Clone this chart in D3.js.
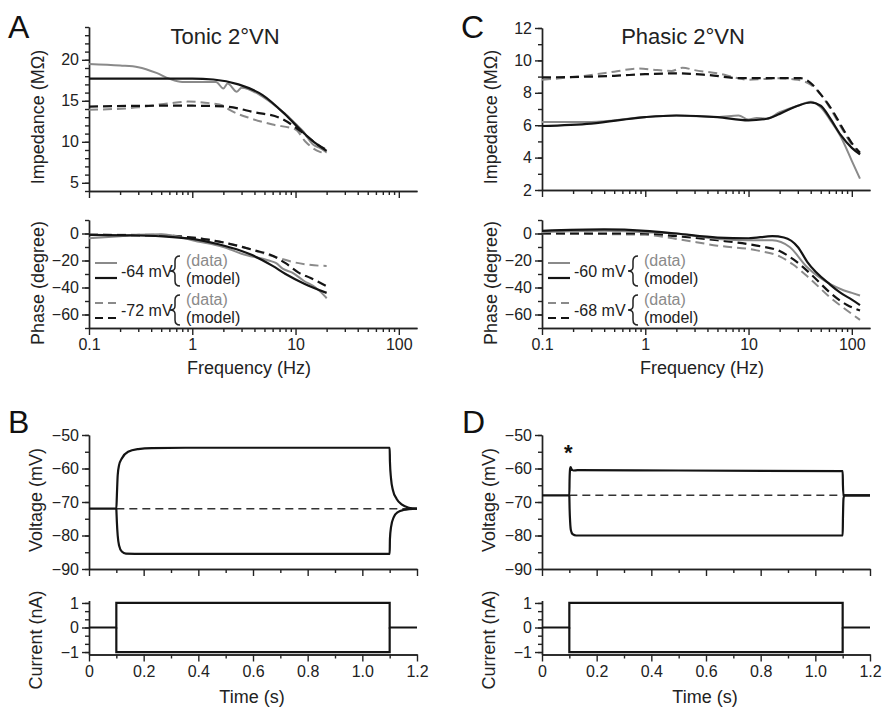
<!DOCTYPE html>
<html>
<head>
<meta charset="utf-8">
<script src="https://cdn.jsdelivr.net/npm/d3@7"></script>
<style>
  body { margin: 0; background: #fff; }
  svg { font-family: "Liberation Sans", Arial, sans-serif; }
</style>
</head>
<body>
<div id="wrapper"></div>
<script>
// ---- data (frequency in Hz, impedance in MOhm, phase in degree) ----
const tonicImpData64  = [[0.1,19.5],[0.2,19.3],[0.3,19.1],[0.45,18.4],[0.6,17.7],[0.8,17.3],[1.2,17.3],[1.7,17.3],[2.0,16.5],[2.2,17.1],[2.7,16.1],[3.0,16.6],[4.8,15.5],[6.8,14.1],[8.5,13.1],[10,12.2],[12,11.2],[14,10.0],[15,9.6],[17,9.3],[20,8.7]]
const tonicImpModel64 = [[0.1,17.7],[0.5,17.7],[1,17.7],[1.6,17.6],[2.8,17.0],[4.8,15.7],[8,13.3],[11.7,11.2],[15,10.0],[20,8.9]]
const tonicImpData72  = [[0.1,13.9],[0.3,14.2],[0.6,14.7],[0.9,14.9],[1.5,14.7],[2.0,14.4],[2.3,13.9],[3.8,12.8],[6,12.1],[10,11.5],[12.5,10.0],[17,8.8],[20,8.6]]
const tonicImpModel72 = [[0.1,14.3],[0.5,14.4],[1,14.4],[2.1,14.3],[4,13.6],[7.1,12.9],[11.7,11.1],[15,10.0],[20,9.0]]

const tonicPhaseData64  = [[0.1,-3.5],[0.2,-2],[0.3,-1],[0.5,-0.5],[0.7,-2],[1,-5],[2,-10],[3,-15],[5.5,-20],[6.5,-22],[7.5,-26],[9.3,-29],[12,-35],[15.6,-40],[19.5,-47],[20,-48]]
const tonicPhaseModel64 = [[0.1,-1],[0.3,-1.5],[0.6,-2.5],[1,-4],[1.8,-8],[3,-13],[3.8,-16],[6,-24],[8,-30],[12,-37],[20,-44]]
const tonicPhaseData72  = [[0.1,-1],[0.5,-1],[1,-3],[2,-6.5],[3.8,-12],[5.5,-16],[6.8,-18],[9.3,-21],[13,-23],[16.7,-23.8],[20,-24]]
const tonicPhaseModel72 = [[0.1,-1],[0.4,-1.5],[0.85,-2.5],[2.1,-7],[3.8,-12],[6,-16.5],[8,-22],[10.7,-29],[14,-33],[20,-39]]

const phasicImpData60  = [[0.1,6.2],[0.3,6.2],[1,6.5],[2,6.6],[5,6.5],[8,6.6],[10,6.35],[12,6.45],[15,6.4],[20,6.8],[30,7.2],[40,7.45],[50,7.1],[62,6.3],[78,5.3],[100,3.8],[120,2.7]]
const phasicImpModel60 = [[0.1,5.95],[0.3,6.1],[1,6.5],[2,6.6],[5,6.5],[10,6.3],[15,6.4],[20,6.7],[30,7.2],[40,7.4],[50,7.2],[62,6.4],[78,5.4],[100,4.6],[120,4.2]]
const phasicImpData68  = [[0.1,8.8],[0.3,9.1],[0.5,9.3],[0.85,9.5],[1.3,9.4],[1.8,9.35],[2.3,9.55],[3,9.4],[5,9.2],[8,8.9],[10,8.8],[14,8.85],[20,8.9],[30,8.8],[40,8.5],[50,7.9],[65,6.8],[80,5.8],[100,4.8],[120,4.2]]
const phasicImpModel68 = [[0.1,8.95],[0.5,9.05],[1,9.15],[2,9.2],[4,9.1],[8.5,8.9],[20,8.9],[32,8.9],[40,8.6],[50,7.9],[65,6.9],[80,5.9],[100,4.9],[120,4.3]]

const phasicPhaseData60  = [[0.1,1],[0.4,2],[1,1],[2,0],[5,-4],[10,-5],[17,-5],[25,-10],[37,-25],[62,-37.5],[83,-42],[100,-44],[120,-46]]
const phasicPhaseModel60 = [[0.1,2],[0.4,3],[1,2],[2,0],[5,-3],[10,-3.5],[17,-2],[22,-3],[30,-10],[37,-21],[62,-38],[78,-44],[100,-49],[120,-53]]
const phasicPhaseData68  = [[0.1,0],[1,-1],[2,-4],[5,-9],[12,-12.5],[20,-17],[27,-23],[40,-34],[62,-47.5],[90,-57],[120,-64]]
const phasicPhaseModel68 = [[0.1,0],[1,0],[2,-2],[5,-5],[12,-9],[20,-13],[27,-19],[40,-30],[62,-44],[90,-53],[120,-57]]

// ---- data (time in s, voltage in mV, current in nA) ----
const tonicVUp   = [[0,-72],[0.1,-72],[0.102,-68],[0.105,-62],[0.11,-59],[0.12,-57],[0.143,-55],[0.18,-54.2],[0.23,-53.9],[0.4,-53.8],[1.1,-53.8],[1.101,-58],[1.105,-63],[1.112,-66.5],[1.125,-69],[1.145,-70.8],[1.17,-71.7],[1.2,-72]]
const tonicVDown = [[0.1,-72],[0.102,-76],[0.105,-80],[0.11,-83],[0.12,-84.8],[0.135,-85.4],[0.2,-85.5],[1.1,-85.5],[1.101,-81],[1.105,-77.5],[1.115,-74.5],[1.13,-73],[1.15,-72.4],[1.2,-72]]
const tonicRest  = [[0.1,-72],[1.2,-72]]

const phasicVUp   = [[0,-68],[0.1,-68],[0.101,-63],[0.103,-60],[0.105,-59.6],[0.108,-60.2],[0.115,-60.6],[0.13,-60.5],[0.5,-60.6],[1.1,-60.8],[1.101,-65],[1.103,-68],[1.2,-68]]
const phasicVDown = [[0.1,-68],[0.101,-72],[0.103,-76],[0.106,-78.5],[0.112,-79.6],[0.125,-80],[1.1,-80],[1.101,-75],[1.103,-69],[1.106,-68],[1.2,-68]]
const phasicRest  = [[0.1,-68],[1.1,-68]]

const currentUp   = [[0,0],[0.1,0],[0.1,1],[1.1,1],[1.1,0],[1.2,0]]
const currentDown = [[0.1,0],[0.1,-1],[1.1,-1],[1.1,0]]

const freqTicks = [0.1, 1, 10, 100]
const timeTicks = [0, 0.2, 0.4, 0.6, 0.8, 1.0, 1.2]

const gray = "#8a8a8a"
const black = "#141414"
const axisColor = "#222"

const width = 882
const height = 707

const svg = d3.select("#wrapper")
  .append("svg")
    .attr("width", width)
    .attr("height", height)

function styleAxis(g) {
  g.select(".domain").attr("stroke", axisColor).attr("stroke-width", 1.4)
  g.selectAll(".tick line").attr("stroke", axisColor).attr("stroke-width", 1.4)
  g.selectAll(".tick text")
    .attr("fill", "#222")
    .style("font-size", "16px")
    .style("font-family", "'Liberation Sans', Arial, sans-serif")
}

function yAxisPair(g, y, major, minor, x0, fmt) {
  g.append("g")
    .attr("transform", `translate(${x0},0)`)
    .call(d3.axisLeft(y).tickValues(minor).tickSize(4).tickSizeOuter(0).tickFormat(""))
    .call(styleAxis)
  g.append("g")
    .attr("transform", `translate(${x0},0)`)
    .call(d3.axisLeft(y).tickValues(major).tickSize(7).tickSizeOuter(0).tickPadding(3).tickFormat(fmt || d3.format("d")))
    .call(styleAxis)
}

function xAxisPair(g, x, major, minor, y0, fmt) {
  g.append("g")
    .attr("transform", `translate(0,${y0})`)
    .call(d3.axisBottom(x).tickValues(minor).tickSize(4).tickSizeOuter(0).tickFormat(""))
    .call(styleAxis)
  g.append("g")
    .attr("transform", `translate(0,${y0})`)
    .call(d3.axisBottom(x).tickValues(major).tickSize(7).tickSizeOuter(0).tickPadding(4).tickFormat(fmt || ""))
    .call(styleAxis)
}

function rotLabel(g, text, x, y) {
  g.append("text")
    .attr("transform", `translate(${x},${y}) rotate(-90)`)
    .attr("text-anchor", "middle")
    .attr("dominant-baseline", "central")
    .style("font-size", "18px")
    .attr("fill", "#222")
    .text(text)
}

function brace(g, bx, cy, h) {
  const t = cy - h / 2, b = cy + h / 2, w = 5
  g.append("path")
    .attr("d", `M${bx + w},${t} Q${bx},${t} ${bx},${t + 5} L${bx},${cy - 4} Q${bx},${cy} ${bx - w},${cy} Q${bx},${cy} ${bx},${cy + 4} L${bx},${b - 5} Q${bx},${b} ${bx + w},${b}`)
    .attr("fill", "none")
    .attr("stroke", "#222")
    .attr("stroke-width", 1.5)
}

function drawFreqPanel(opt) {
  const g = svg.append("g")
  const x = d3.scaleLog().domain([0.1, 150]).range([opt.x0, opt.x0 + 328])
  const yImp = d3.scaleLinear().domain(opt.impDomain).range(opt.impRange)
  const yPh = d3.scaleLinear().domain([-70, 10]).range([328, 220])
  const minorF = x.ticks().filter(d => !freqTicks.includes(d))

  // impedance axes
  yAxisPair(g, yImp, opt.impMajor, d3.range(opt.impDomain[0], opt.impDomain[1] + 1, 1), opt.x0)
  xAxisPair(g, x, freqTicks, minorF, opt.impRange[0])
  // phase axes
  yAxisPair(g, yPh, [-60, -40, -20, 0], d3.range(-70, 11, 10), opt.x0)
  xAxisPair(g, x, freqTicks, minorF, 328, d3.format("~g"))

  const lineImp = d3.line().x(d => x(d[0])).y(d => yImp(d[1])).curve(d3.curveMonotoneX)
  const linePh = d3.line().x(d => x(d[0])).y(d => yPh(d[1])).curve(d3.curveMonotoneX)

  const series = [
    { imp: opt.impData2, ph: opt.phData2, color: gray, dash: "9,5", w: 2 },
    { imp: opt.impModel2, ph: opt.phModel2, color: black, dash: "9,5", w: 2.2 },
    { imp: opt.impData1, ph: opt.phData1, color: gray, dash: null, w: 2 },
    { imp: opt.impModel1, ph: opt.phModel1, color: black, dash: null, w: 2.2 },
  ]
  series.forEach(s => {
    g.append("path").attr("d", lineImp(s.imp))
      .attr("fill", "none").attr("stroke", s.color).attr("stroke-width", s.w)
      .attr("stroke-dasharray", s.dash)
    g.append("path").attr("d", linePh(s.ph))
      .attr("fill", "none").attr("stroke", s.color).attr("stroke-width", s.w)
      .attr("stroke-dasharray", s.dash)
  })

  // legend
  const lg = g.append("g")
  const rows = [
    { label: opt.v1, dash: null, yData: 263, yModel: 278, yMid: 271 },
    { label: opt.v2, dash: "8,5", yData: 303, yModel: 318, yMid: 310 },
  ]
  rows.forEach(r => {
    lg.append("line").attr("x1", opt.x0 + 6).attr("x2", opt.x0 + 28)
      .attr("y1", r.yData).attr("y2", r.yData)
      .attr("stroke", gray).attr("stroke-width", 2).attr("stroke-dasharray", r.dash)
    lg.append("line").attr("x1", opt.x0 + 6).attr("x2", opt.x0 + 28)
      .attr("y1", r.yModel).attr("y2", r.yModel)
      .attr("stroke", black).attr("stroke-width", 2.2).attr("stroke-dasharray", r.dash)
    lg.append("text").attr("x", opt.x0 + 32).attr("y", r.yMid)
      .attr("dominant-baseline", "central").style("font-size", "16px").attr("fill", "#222")
      .text(r.label)
    brace(lg, opt.x0 + opt.braceX, r.yMid, 30)
    lg.append("text").attr("x", opt.x0 + opt.braceX + 11).attr("y", r.yMid - 11)
      .attr("dominant-baseline", "central").style("font-size", "16px").attr("fill", gray)
      .text("(data)")
    lg.append("text").attr("x", opt.x0 + opt.braceX + 11).attr("y", r.yMid + 7)
      .attr("dominant-baseline", "central").style("font-size", "16px").attr("fill", "#222")
      .text("(model)")
  })

  // labels
  rotLabel(g, "Impedance (MΩ)", opt.x0 - 51, 117)
  rotLabel(g, "Phase (degree)", opt.x0 - 51, 283)
  g.append("text").attr("x", opt.x0 + 160).attr("y", 368)
    .attr("text-anchor", "middle").attr("dominant-baseline", "central")
    .style("font-size", "18px").attr("fill", "#222").text("Frequency (Hz)")
  g.append("text").attr("x", opt.titleX).attr("y", 36)
    .attr("text-anchor", "middle").attr("dominant-baseline", "central")
    .style("font-size", "22px").attr("fill", "#222").text(opt.title)
  g.append("text").attr("x", opt.letterX).attr("y", 38)
    .style("font-size", "32px").attr("fill", "#111").text(opt.letter)
}

function drawTimePanel(opt) {
  const g = svg.append("g")
  const x = d3.scaleLinear().domain([0, 1.2]).range([opt.x0, opt.x0 + 328])
  const yV = d3.scaleLinear().domain([-90, -50]).range([569, 435])
  const yI = d3.scaleLinear().domain([-1.1, 1.1]).range([654.5, 600.5])
  const minorT = [0.1, 0.3, 0.5, 0.7, 0.9, 1.1]

  yAxisPair(g, yV, d3.range(-90, -49, 10), d3.range(-90, -49, 5), opt.x0)
  xAxisPair(g, x, timeTicks, minorT, 569)
  yAxisPair(g, yI, [-1, 0, 1], [-1, -2 / 3, -1 / 3, 0, 1 / 3, 2 / 3, 1], opt.x0)
  xAxisPair(g, x, timeTicks, minorT, 654.5, d => d === 0 ? "0" : d3.format(".1f")(d))

  const lineV = d3.line().x(d => x(d[0])).y(d => yV(d[1])).curve(d3.curveMonotoneX)
  const lineI = d3.line().x(d => x(d[0])).y(d => yI(d[1]))

  g.append("path").attr("d", d3.line().x(d => x(d[0])).y(d => yV(d[1]))(opt.rest))
    .attr("fill", "none").attr("stroke", "#333").attr("stroke-width", 1.6).attr("stroke-dasharray", "8,5")
  ;[opt.up, opt.down].forEach(s => {
    g.append("path").attr("d", lineV(s))
      .attr("fill", "none").attr("stroke", black).attr("stroke-width", 2.2)
  })
  ;[currentUp, currentDown].forEach(s => {
    g.append("path").attr("d", lineI(s))
      .attr("fill", "none").attr("stroke", black).attr("stroke-width", 2.2)
  })

  rotLabel(g, "Voltage (mV)", opt.x0 - 53, 500)
  rotLabel(g, "Current (nA)", opt.x0 - 53, 640)
  g.append("text").attr("x", opt.x0 + 163).attr("y", 697)
    .attr("text-anchor", "middle").attr("dominant-baseline", "central")
    .style("font-size", "18px").attr("fill", "#222").text("Time (s)")
  g.append("text").attr("x", opt.letterX).attr("y", 433)
    .style("font-size", "32px").attr("fill", "#111").text(opt.letter)
  if (opt.star) {
    g.append("text").attr("x", x(0.1) - 1).attr("y", yV(-57) + 2)
      .attr("text-anchor", "middle")
      .style("font-size", "22px").style("font-weight", "bold").attr("fill", "#111").text("*")
  }
}

drawFreqPanel({
  x0: 89, impDomain: [4, 24], impRange: [191, 27], impMajor: [5, 10, 15, 20],
  impData1: tonicImpData64, impModel1: tonicImpModel64, impData2: tonicImpData72, impModel2: tonicImpModel72,
  phData1: tonicPhaseData64, phModel1: tonicPhaseModel64, phData2: tonicPhaseData72, phModel2: tonicPhaseModel72,
  v1: "-64 mV", v2: "-72 mV", braceX: 86, title: "Tonic 2°VN", titleX: 225, letter: "A", letterX: 8,
})
drawFreqPanel({
  x0: 542, impDomain: [2, 12], impRange: [190, 28], impMajor: [2, 4, 6, 8, 10, 12],
  impData1: phasicImpData60, impModel1: phasicImpModel60, impData2: phasicImpData68, impModel2: phasicImpModel68,
  phData1: phasicPhaseData60, phModel1: phasicPhaseModel60, phData2: phasicPhaseData68, phModel2: phasicPhaseModel68,
  v1: "-60 mV", v2: "-68 mV", braceX: 91, title: "Phasic 2°VN", titleX: 683, letter: "C", letterX: 461,
})
drawTimePanel({ x0: 89, up: tonicVUp, down: tonicVDown, rest: tonicRest, letter: "B", letterX: 8, star: false })
drawTimePanel({ x0: 542, up: phasicVUp, down: phasicVDown, rest: phasicRest, letter: "D", letterX: 462, star: true })
</script>
</body>
</html>
